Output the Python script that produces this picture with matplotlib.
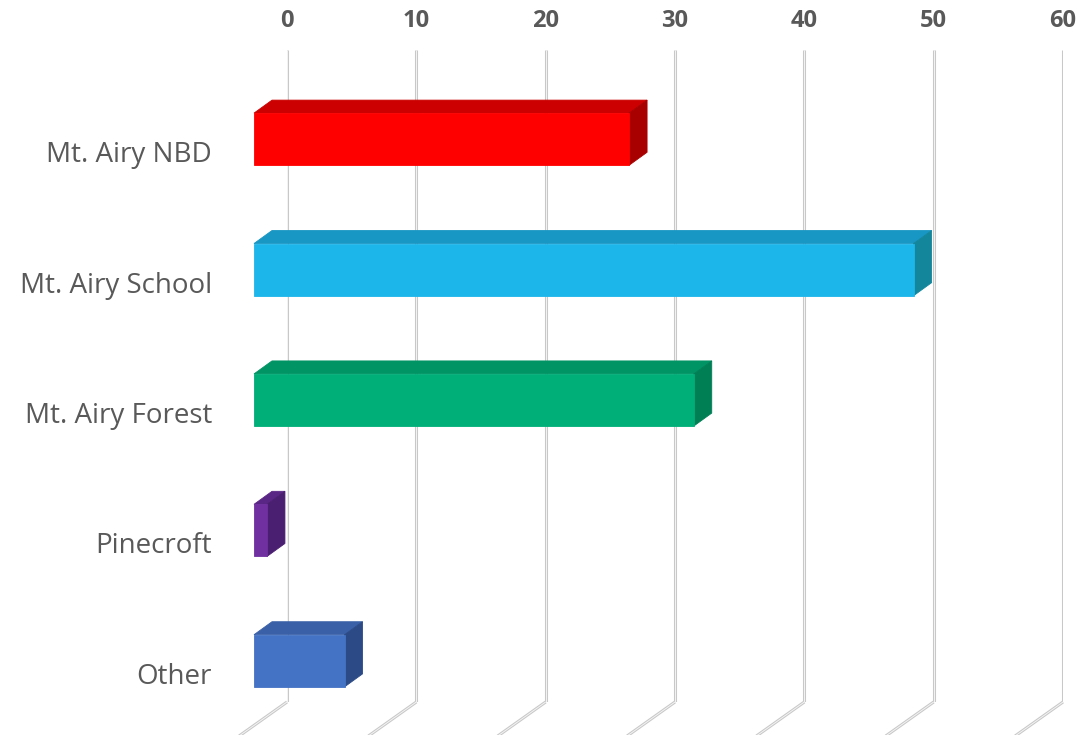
import numpy as np
import matplotlib
matplotlib.use("Agg")
import matplotlib.pyplot as plt
from matplotlib.patches import Polygon

categories = ["Mt. Airy NBD", "Mt. Airy School", "Mt. Airy Forest", "Pinecroft", "Other"]
values = [29, 51, 34, 1, 7]
ticks = [0, 10, 20, 30, 40, 50, 60]

# front, top, side shades for each bar
front_colors = ["#FF0000", "#1CB6EA", "#00AE78", "#7030A0", "#4472C4"]
top_colors = ["#CC0000", "#1896C4", "#009464", "#5A2686", "#3A60A8"]
side_colors = ["#A80000", "#13869C", "#007F55", "#4A1E70", "#2C4A86"]

W, H = 1084, 735
fig = plt.figure(figsize=(W / 100, H / 100), dpi=100)
ax_top, ax_bot = 50, 702
ax_left, ax_right = 287, 1063
ax = fig.add_axes([ax_left / W, 1 - ax_bot / H, (ax_right - ax_left) / W, (ax_bot - ax_top) / H])
ax.set_xlim(0, 60)
ax.set_ylim(4.5, -0.5)

# pixel -> data scale for the depth offsets
sx = (ax_right - ax_left) / 60.0
sy = (ax_bot - ax_top) / 5.0


def off(px, py):
    return np.array([px / sx, py / sy])


back = off(-15, 11)
front = off(-33, 24)
floor = off(-62, 44)

# gridlines on the back wall, then bending onto the floor
for t in ticks:
    for lw, c in [(2.2, "#c8c8c8"), (0.7, "#f4f4f4")]:
        ax.plot([t, t], [-0.5, 4.5], color=c, lw=lw, solid_capstyle="butt", zorder=1)
        ax.plot([t, t + floor[0]], [4.5, 4.5 + floor[1]], color=c, lw=lw,
                solid_capstyle="butt", clip_on=False, zorder=1)

half = 0.2
for i, v in enumerate(values):
    yt, yb = i - half, i + half
    p00 = np.array([0, yt]); p10 = np.array([v, yt])
    p11 = np.array([v, yb]); p01 = np.array([0, yb])
    top = [p00 + back, p10 + back, p10 + front, p00 + front]
    side = [p10 + back, p11 + back, p11 + front, p10 + front]
    face = [p00 + front, p10 + front, p11 + front, p01 + front]
    for pts, col in [(top, top_colors[i]), (side, side_colors[i]), (face, front_colors[i])]:
        ax.add_patch(Polygon(pts, closed=True, facecolor=col, edgecolor=col,
                             lw=0.6, clip_on=False, zorder=3))

for s in ax.spines.values():
    s.set_visible(False)

ax.xaxis.tick_top()
ax.set_xticks(ticks)
ax.set_xticklabels([str(t) for t in ticks], fontsize=17, fontweight="bold",
                   color="#595959", family="Open Sans")
ax.tick_params(axis="x", length=0, pad=12)

ax.set_yticks(np.arange(len(categories)) + 0.28)
ax.set_yticklabels(categories, fontsize=20, color="#595959", family="Open Sans")
ax.tick_params(axis="y", length=0, pad=54)

fig.savefig("out.png", dpi=100)
